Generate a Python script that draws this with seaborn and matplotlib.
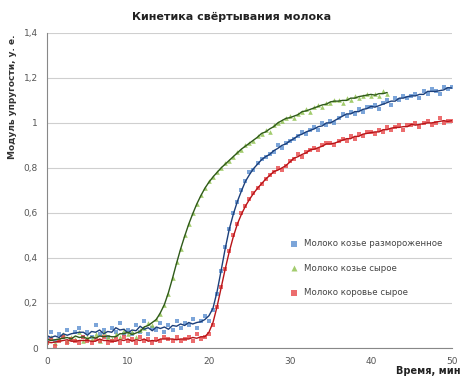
import numpy as np
import pandas as pd
import matplotlib.pyplot as plt
import seaborn as sns

# readings every 0.5 min
thawed = [0.04, 0.07, 0.03, 0.06, 0.05, 0.08, 0.04, 0.07, 0.09, 0.05,
          0.07, 0.05, 0.10, 0.06, 0.08, 0.05, 0.09, 0.07, 0.11, 0.06,
          0.08, 0.06, 0.10, 0.07, 0.12, 0.06, 0.09, 0.08, 0.11, 0.07,
          0.10, 0.08, 0.12, 0.09, 0.11, 0.10, 0.13, 0.09, 0.12, 0.14,
          0.12, 0.17, 0.24, 0.34, 0.45, 0.53, 0.60, 0.65, 0.70, 0.74,
          0.78, 0.79, 0.82, 0.84, 0.85, 0.86, 0.87, 0.90, 0.89, 0.91,
          0.92, 0.93, 0.94, 0.96, 0.95, 0.97, 0.98, 0.97, 1.00, 0.99,
          1.01, 1.00, 1.02, 1.04, 1.03, 1.05, 1.04, 1.06, 1.05, 1.07,
          1.07, 1.08, 1.06, 1.09, 1.10, 1.08, 1.11, 1.10, 1.12, 1.11,
          1.12, 1.13, 1.11, 1.14, 1.13, 1.15, 1.14, 1.13, 1.16, 1.15,
          1.16]
goat_raw = [0.03, 0.05, 0.02, 0.04, 0.06, 0.03, 0.05, 0.04, 0.07, 0.03,
            0.05, 0.04, 0.06, 0.03, 0.07, 0.05, 0.04, 0.06, 0.05, 0.08,
            0.06, 0.07, 0.05, 0.08, 0.09, 0.11, 0.10, 0.13, 0.15, 0.19,
            0.24, 0.31, 0.38, 0.44, 0.50, 0.55, 0.60, 0.64, 0.68, 0.71,
            0.74, 0.76, 0.78, 0.80, 0.82, 0.83, 0.85, 0.87, 0.88, 0.90,
            0.91, 0.92, 0.94, 0.95, 0.97, 0.96, 0.99, 1.00, 1.01, 1.02,
            1.03, 1.02, 1.04, 1.05, 1.06, 1.05, 1.07, 1.08, 1.07, 1.09,
            1.09, 1.10, 1.10, 1.09, 1.11, 1.10, 1.12, 1.11, 1.12, 1.13,
            1.12, 1.13, 1.12, 1.14, 1.13]
cow_raw = [0.02, 0.04, 0.01, 0.03, 0.05, 0.02, 0.04, 0.03, 0.02, 0.05,
           0.03, 0.02, 0.04, 0.03, 0.05, 0.02, 0.03, 0.04, 0.02, 0.05,
           0.03, 0.04, 0.02, 0.05, 0.03, 0.04, 0.02, 0.04, 0.03, 0.05,
           0.04, 0.03, 0.05, 0.03, 0.04, 0.05, 0.03, 0.06, 0.04, 0.05,
           0.06, 0.10, 0.18, 0.27, 0.35, 0.43, 0.50, 0.55, 0.60, 0.63,
           0.66, 0.69, 0.71, 0.73, 0.75, 0.77, 0.78, 0.80, 0.79, 0.81,
           0.83, 0.84, 0.86, 0.85, 0.87, 0.88, 0.89, 0.88, 0.90, 0.91,
           0.91, 0.90, 0.92, 0.93, 0.92, 0.94, 0.93, 0.95, 0.94, 0.96,
           0.96, 0.95, 0.97, 0.96, 0.98, 0.97, 0.98, 0.99, 0.97, 0.99,
           0.99, 1.00, 0.98, 1.00, 1.01, 0.99, 1.00, 1.02, 1.00, 1.01,
           1.01]

names = ["Молоко козье размороженное", "Молоко козье сырое", "Молоко коровье сырое"]
series = [thawed, goat_raw, cow_raw]
dot_colors = ["#5b8fd0", "#8cc04a", "#e8484a"]
line_colors = ["#1c3f7a", "#2f5a1a", "#b81418"]
markers = ["s", "^", "s"]

sns.set_style("white")
plt.rcParams["font.family"] = ["DejaVu Sans"]

fig = plt.figure(figsize=(4.63, 3.82), dpi=100)
ax = fig.add_axes([0.1015, 0.089, 0.8745, 0.825])

for name, vals, dc, lc, mk in zip(names, series, dot_colors, line_colors, markers):
    df = pd.DataFrame({"t": np.arange(len(vals)) * 0.5, "v": vals})
    df["trend"] = df["v"].rolling(3, center=True, min_periods=1).mean()
    sns.scatterplot(data=df, x="t", y="v", ax=ax, color=dc, marker=mk, s=11,
                    linewidth=0, alpha=0.8, label=name)
    sns.lineplot(data=df, x="t", y="trend", ax=ax, color=lc, lw=1.0, label="_nolegend_")

ax.set_xlim(0, 50)
ax.set_ylim(0, 1.4)
ax.set_xticks([0, 10, 20, 30, 40, 50])
ax.set_yticks([0, 0.2, 0.4, 0.6, 0.8, 1.0, 1.2, 1.4])
ax.set_yticklabels(["0", "0,2", "0,4", "0,6", "0,8", "1", "1,2", "1,4"])
ax.tick_params(labelsize=6.5, colors="#555555", length=3, direction="out")
ax.yaxis.grid(True, color="#cfcfcf", lw=0.8)
for s in ["top", "right"]:
    ax.spines[s].set_visible(False)
for s in ["left", "bottom"]:
    ax.spines[s].set_color("#888888")
ax.set_xlabel("")
ax.set_ylabel("")

fig.text(0.5, 0.955, "Кинетика свёртывания молока", ha="center", va="center",
         fontsize=8, fontweight="bold", color="#222222")
fig.text(0.028, 0.91, "Модуль упругости, у. е.", rotation=90, ha="center", va="top",
         fontsize=6.5, fontweight="bold", color="#333333")
fig.text(0.995, 0.028, "Время, мин", ha="right", va="center",
         fontsize=7, fontweight="bold", color="#222222")

leg = ax.legend(loc="upper left", bbox_to_anchor=(0.57, 0.37), frameon=False,
                fontsize=6.2, markerscale=1.3, handletextpad=0.2, labelspacing=1.8)
for t in leg.get_texts():
    t.set_color("#444444")

fig.savefig("out.png", dpi=100)
